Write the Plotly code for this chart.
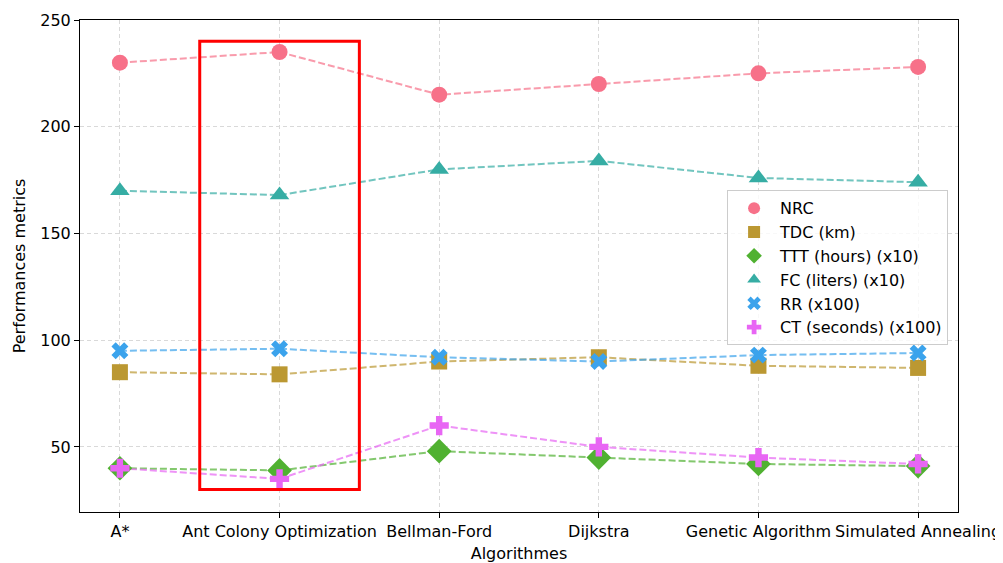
import plotly.graph_objects as go

algorithms = ["A*", "Ant Colony Optimization", "Bellman-Ford", "Dijkstra", "Genetic Algorithm", "Simulated Annealing"]
nrc = [230, 235, 215, 220, 225, 228]
tdc = [85, 84, 90, 92, 88, 87]
ttt = [40, 39, 48, 45, 42, 41]
fc = [170, 168, 180, 184, 176, 174]
rr = [95, 96, 92, 90, 93, 94]
ct = [40, 35, 60, 50, 45, 42]

series_names = ["NRC", "TDC (km)", "TTT (hours) (x10)", "FC (liters) (x10)", "RR (x100)", "CT (seconds) (x100)"]
series_values = [nrc, tdc, ttt, fc, rr, ct]
colors = ["#f77189", "#bb9832", "#50b131", "#36ada4", "#3ba3ec", "#e866f4"]
symbols = ["circle", "square", "diamond", "triangle-up", "x", "cross"]
sizes = [16, 16, 19, 17, 15, 16]

highlight_x = [0.5, 1.5]
highlight_y = [30, 240]

xpos = list(range(len(algorithms)))

fig = go.Figure()
for name, vals, c in zip(series_names, series_values, colors):
    fig.add_trace(go.Scatter(x=xpos, y=vals, mode="lines", line=dict(color=c, width=2, dash="7px,3px"),
                             opacity=0.7, showlegend=False, hoverinfo="skip"))
for name, vals, c, s, sz in zip(series_names, series_values, colors, symbols, sizes):
    fig.add_trace(go.Scatter(x=xpos, y=vals, mode="markers", name=name,
                             marker=dict(color=c, symbol=s, size=sz, line=dict(width=0))))

fig.add_shape(type="rect", x0=highlight_x[0], x1=highlight_x[1], y0=highlight_y[0], y1=highlight_y[1],
              xref="x", yref="y", line=dict(color="red", width=3), fillcolor="rgba(0,0,0,0)")

axis_common = dict(showline=True, linecolor="black", linewidth=1, mirror=True,
                   ticks="outside", ticklen=5, tickcolor="black",
                   showgrid=True, gridcolor="#d9d9d9", griddash="4px,3px", gridwidth=1,
                   zeroline=False, tickfont=dict(size=16, color="black"), automargin=False)

fig.update_layout(
    width=1003, height=563,
    margin=dict(l=72, r=53, t=12, b=59),
    paper_bgcolor="white", plot_bgcolor="white",
    font=dict(family="DejaVu Sans", size=16, color="black"),
    xaxis=dict(range=[-0.25, 5.25], tickmode="array", tickvals=xpos, ticktext=algorithms,
               title=dict(text="Algorithmes", font=dict(size=16), standoff=7), **axis_common),
    yaxis=dict(range=[19.5, 250], tickmode="array", tickvals=[50, 100, 150, 200, 250],
               title=dict(text="Performances metrics", font=dict(size=16), standoff=10), **axis_common),
    legend=dict(x=0.737, y=0.654, xanchor="left", yanchor="top",
                bgcolor="rgba(255,255,255,0.8)", bordercolor="#cccccc", borderwidth=1,
                font=dict(size=16), itemsizing="constant", itemwidth=42, tracegroupgap=0),
)

fig.write_html("out.html")
